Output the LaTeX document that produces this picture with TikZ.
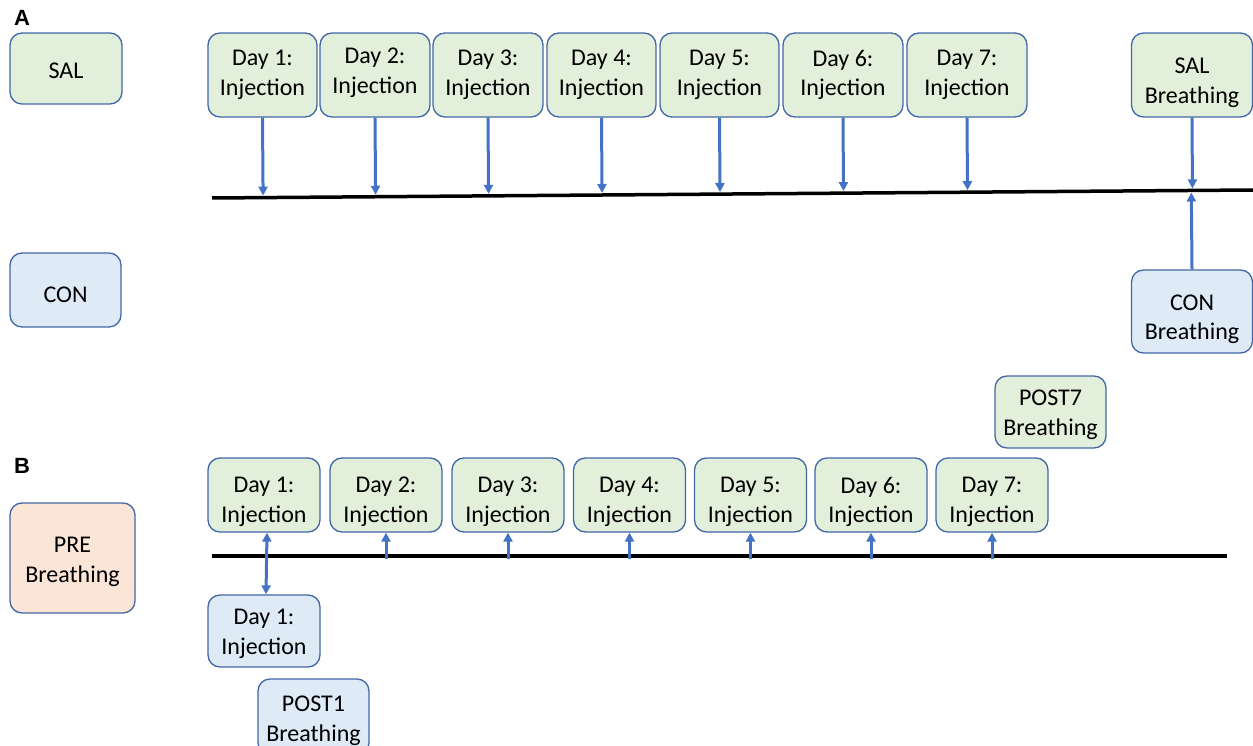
\documentclass[tikz,border=0pt]{standalone}
\usepackage{fontspec}
\setmainfont{Carlito}
\newfontfamily\labelfont{Liberation Sans}
\usetikzlibrary{arrows.meta,calc}
\definecolor{gfill}{HTML}{E2EFDA}
\definecolor{bfill}{HTML}{DEEBF7}
\definecolor{pfill}{HTML}{FBE5D6}
\definecolor{bord}{HTML}{4267A6}
\definecolor{arrc}{HTML}{4472C4}
\tikzset{
  boxbase/.style={draw=bord, line width=1.3pt, rounded corners=12pt, inner sep=0pt},
  gbox/.style={boxbase, fill=gfill},
  bbox/.style={boxbase, fill=bfill},
  pbox/.style={boxbase, fill=pfill},
  txt/.style={align=center, inner sep=0pt, font=\fontsize{24}{29.5}\selectfont},
  tline/.style={line width=3.5pt, black},
  conn/.style={draw=arrc, line width=3pt, -{Triangle[length=9pt,width=9pt]}},
  dconn/.style={draw=arrc, line width=3pt, {Triangle[length=9pt,width=9pt]}-{Triangle[length=9pt,width=9pt]}},
  panel/.style={font=\labelfont\bfseries\fontsize{22}{24}\selectfont, inner sep=0pt}
}
% #1 style, #2 name, #3 cx, #4 cy, #5 width, #6 height, #7 text shift down, #8 text
\newcommand\mybox[8]{%
  \node[#1, minimum width=#5pt, minimum height=#6pt,
        label={[txt, yshift=-#7pt]center:{#8}}] (#2) at (#3,#4) {};%
}
\begin{document}
\begin{tikzpicture}[x=1pt,y=-1pt]
\useasboundingbox (0,0) rectangle (1253,746);
\clip (0,0) rectangle (1253,746);

% panel labels
\node[panel] (labA) at (22,18) {A};
\node[panel] (labB) at (22,466) {B};

% ---------- Panel A ----------
\mybox{gbox}{sal}{66}{68.5}{112}{71}{2}{SAL}
\mybox{bbox}{con}{65.5}{290}{111}{74}{5}{CON}

\mybox{gbox}{a1}{262.5}{75}{109}{84}{0}{Day 1:\\Injection}
\mybox{gbox}{a2}{375}{75}{110}{84}{-2}{Day 2:\\Injection}
\mybox{gbox}{a3}{488}{75}{110}{84}{0}{Day 3:\\Injection}
\mybox{gbox}{a4}{601.5}{75}{109}{84}{0}{Day 4:\\Injection}
\mybox{gbox}{a5}{719.5}{75}{119}{84}{0}{Day 5:\\Injection}
\mybox{gbox}{a6}{843}{75}{120}{84}{0}{Day 6:\\Injection}
\mybox{gbox}{a7}{967}{75}{120}{84}{0}{Day 7:\\Injection}
\mybox{gbox}{salb}{1192}{75}{121}{84}{8}{SAL\\Breathing}
\mybox{bbox}{conb}{1192}{311.5}{121}{83}{8}{CON\\Breathing}

\coordinate (ta1) at (212,198);
\coordinate (ta2) at (1253,190);
\draw[tline] (ta1) -- (ta2);

\foreach \n in {a1,a2,a3,a4,a5,a6,a7,salb}{
  \draw[conn, shorten >=2pt] (\n.south) -- ($(ta1)!(\n.south)!(ta2)$);
}
\draw[conn, shorten >=2pt] (conb.north) -- ($(ta1)!(conb.north)!(ta2)$);

% ---------- Panel B ----------
\mybox{pbox}{pre}{72.5}{558}{125}{110}{4}{PRE\\Breathing}

\mybox{gbox}{b1}{264}{495}{112}{74}{7}{Day 1:\\Injection}
\mybox{gbox}{b2}{386}{495}{112}{74}{7}{Day 2:\\Injection}
\mybox{gbox}{b3}{508}{495}{112}{74}{7}{Day 3:\\Injection}
\mybox{gbox}{b4}{629.5}{495}{112}{74}{7}{Day 4:\\Injection}
\mybox{gbox}{b5}{750.5}{495}{112}{74}{7}{Day 5:\\Injection}
\mybox{gbox}{b6}{871}{495}{112}{74}{7}{Day 6:\\Injection}
\mybox{gbox}{b7}{992}{495}{112}{74}{7}{Day 7:\\Injection}
\mybox{gbox}{post7}{1050.5}{412}{111}{72}{3}{POST7\\Breathing}

\mybox{bbox}{c1}{264}{631}{112}{72}{3}{Day 1:\\Injection}
\mybox{bbox}{post1}{313.5}{717}{111}{76}{4}{POST1\\Breathing}

\coordinate (tb1) at (212,556);
\coordinate (tb2) at (1227,556);
\draw[tline] (tb1) -- (tb2);

\foreach \n in {b2,b3,b4,b5,b6,b7}{
  \draw[conn] ([yshift=-3pt]\n.south |- tb1) -- (\n.south);
}
\draw[dconn] ([xshift=3pt]b1.south) -- ([xshift=2pt]c1.north);
\end{tikzpicture}
\end{document}
